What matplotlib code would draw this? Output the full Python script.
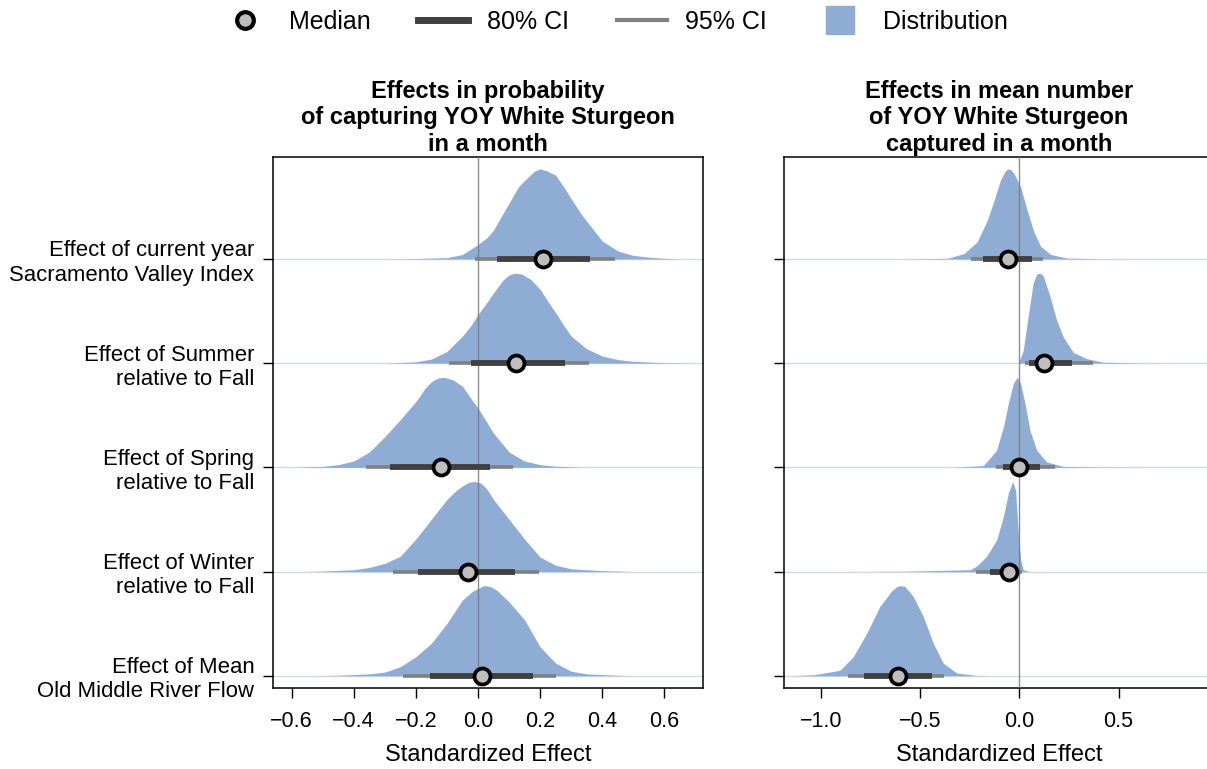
import numpy as np
import matplotlib
matplotlib.use("Agg")
import matplotlib.pyplot as plt
from matplotlib.lines import Line2D

plt.rcParams['font.family'] = ['Liberation Sans', 'DejaVu Sans']

# ---------------- data ----------------
categories = ["Effect of current year\nSacramento Valley Index",
              "Effect of Summer\nrelative to Fall",
              "Effect of Spring\nrelative to Fall",
              "Effect of Winter\nrelative to Fall",
              "Effect of Mean\nOld Middle River Flow"]

panel_titles = ["Effects in probability\nof capturing YOY White Sturgeon\nin a month",
                "Effects in mean number\nof YOY White Sturgeon\ncaptured in a month"]

xlabel_text = "Standardized Effect"

prob_ticks = [-0.6, -0.4, -0.2, 0.0, 0.2, 0.4, 0.6]
count_ticks = [-1.0, -0.5, 0.0, 0.5]

# probability panel summaries
prob_median = [0.21, 0.124, -0.118, -0.033, 0.014]
prob_ci80_low = [0.06, -0.022, -0.283, -0.194, -0.156]
prob_ci80_high = [0.36, 0.279, 0.039, 0.12, 0.176]
prob_ci95_low = [-0.01, -0.092, -0.36, -0.274, -0.24]
prob_ci95_high = [0.44, 0.359, 0.112, 0.195, 0.251]

# count panel summaries
count_median = [-0.057, 0.126, 0.0, -0.052, -0.61]
count_ci80_low = [-0.183, 0.05, -0.08, -0.148, -0.781]
count_ci80_high = [0.066, 0.264, 0.104, -0.005, -0.441]
count_ci95_low = [-0.242, 0.029, -0.119, -0.218, -0.861]
count_ci95_high = [0.121, 0.37, 0.18, 0.015, -0.378]

# posterior densities (x, relative height)
prob_svi_x = [-0.30, -0.2, -0.1, -0.05, 0, 0.03, 0.05, 0.08, 0.1, 0.13, 0.15, 0.18, 0.2, 0.22, 0.25, 0.28, 0.3, 0.33, 0.35, 0.4, 0.45, 0.5, 0.55, 0.6, 0.65]
prob_svi_h = [0, 0.005, 0.015, 0.05, 0.16, 0.24, 0.32, 0.5, 0.62, 0.8, 0.87, 0.97, 1.0, 0.98, 0.93, 0.78, 0.67, 0.51, 0.42, 0.2, 0.09, 0.04, 0.02, 0.008, 0]

prob_summer_x = [-0.3, -0.2, -0.15, -0.1, -0.05, -0.02, 0, 0.03, 0.05, 0.08, 0.1, 0.12, 0.14, 0.17, 0.2, 0.23, 0.25, 0.28, 0.3, 0.35, 0.4, 0.45, 0.5, 0.6, 0.7]
prob_summer_h = [0, 0.015, 0.045, 0.13, 0.3, 0.43, 0.54, 0.68, 0.78, 0.92, 0.98, 1.0, 0.99, 0.93, 0.82, 0.66, 0.56, 0.4, 0.3, 0.16, 0.08, 0.04, 0.02, 0.005, 0]

prob_spring_x = [-0.6, -0.5, -0.45, -0.4, -0.35, -0.3, -0.25, -0.2, -0.17, -0.15, -0.13, -0.11, -0.08, -0.05, -0.02, 0, 0.05, 0.1, 0.15, 0.2, 0.25, 0.35]
prob_spring_h = [0, 0.01, 0.03, 0.07, 0.17, 0.34, 0.53, 0.73, 0.88, 0.95, 0.99, 1.0, 0.97, 0.9, 0.75, 0.66, 0.38, 0.17, 0.07, 0.03, 0.012, 0]

prob_winter_x = [-0.55, -0.5, -0.4, -0.35, -0.3, -0.25, -0.2, -0.15, -0.1, -0.07, -0.05, -0.03, -0.01, 0.01, 0.03, 0.05, 0.1, 0.15, 0.2, 0.25, 0.3, 0.4, 0.5]
prob_winter_h = [0, 0.005, 0.02, 0.045, 0.09, 0.17, 0.36, 0.58, 0.8, 0.9, 0.95, 0.99, 1.0, 0.98, 0.91, 0.8, 0.58, 0.36, 0.16, 0.07, 0.03, 0.01, 0]

prob_flow_x = [-0.5, -0.45, -0.35, -0.3, -0.25, -0.2, -0.15, -0.1, -0.05, -0.02, 0, 0.02, 0.04, 0.06, 0.1, 0.15, 0.2, 0.25, 0.3, 0.35, 0.45, 0.5]
prob_flow_h = [0, 0.005, 0.02, 0.04, 0.1, 0.21, 0.36, 0.58, 0.84, 0.93, 0.97, 1.0, 0.99, 0.95, 0.82, 0.62, 0.32, 0.14, 0.05, 0.02, 0.005, 0]

count_svi_x = [-0.58, -0.363, -0.279, -0.212, -0.161, -0.127, -0.094, -0.069, -0.057, -0.042, -0.027, 0.007, 0.04, 0.074, 0.108, 0.158, 0.242, 0.41, 0.6]
count_svi_h = [0, 0.007, 0.06, 0.19, 0.43, 0.65, 0.88, 0.98, 1.0, 0.99, 0.95, 0.8, 0.54, 0.3, 0.14, 0.05, 0.01, 0.002, 0]

count_summer_x = [-0.005, 0.02, 0.045, 0.07, 0.088, 0.104, 0.121, 0.155, 0.188, 0.222, 0.272, 0.34, 0.423, 0.59, 0.76]
count_summer_h = [0, 0.14, 0.52, 0.89, 0.99, 1.0, 0.97, 0.74, 0.48, 0.29, 0.12, 0.05, 0.011, 0.002, 0]

count_spring_x = [-0.33, -0.181, -0.114, -0.08, -0.055, -0.03, -0.01, 0.007, 0.029, 0.054, 0.088, 0.138, 0.222, 0.4, 0.67]
count_spring_h = [0, 0.02, 0.19, 0.45, 0.71, 0.93, 1.0, 0.93, 0.71, 0.41, 0.19, 0.06, 0.01, 0.003, 0]

count_winter_x = [-0.92, -0.59, -0.248, -0.215, -0.164, -0.114, -0.08, -0.055, -0.033, -0.018, -0.01, -0.002, 0.007, 0.02, 0.05]
count_winter_h = [0, 0.003, 0.02, 0.06, 0.17, 0.35, 0.61, 0.87, 1.0, 0.9, 0.6, 0.35, 0.13, 0.02, 0]

count_flow_x = [-1.15, -1.038, -0.903, -0.836, -0.769, -0.702, -0.643, -0.62, -0.601, -0.576, -0.534, -0.484, -0.433, -0.383, -0.315, -0.215, -0.15]
count_flow_h = [0, 0.01, 0.06, 0.21, 0.47, 0.77, 0.94, 0.985, 1.0, 0.99, 0.88, 0.66, 0.36, 0.14, 0.03, 0.003, 0]

prob_dens = [(prob_svi_x, prob_svi_h), (prob_summer_x, prob_summer_h), (prob_spring_x, prob_spring_h),
             (prob_winter_x, prob_winter_h), (prob_flow_x, prob_flow_h)]
count_dens = [(count_svi_x, count_svi_h), (count_summer_x, count_summer_h), (count_spring_x, count_spring_h),
              (count_winter_x, count_winter_h), (count_flow_x, count_flow_h)]

# ---------------- style ----------------
DIST_COLOR = '#8FADD4'
CI80_COLOR = '#404040'
CI95_COLOR = '#808080'
MED_FACE = '#BEBEBE'
GRID_COLOR = '#D6D9DE'
SLAB_SCALE = 0.865

fig = plt.figure(figsize=(12.07, 7.69), dpi=100)
ax1 = fig.add_axes([273 / 1207, 1 - 688 / 769, 430 / 1207, 531 / 769])
ax2 = fig.add_axes([784 / 1207, 1 - 688 / 769, 430 / 1207, 531 / 769])

n = len(categories)
ypos = np.arange(n, 0, -1)  # top category highest


def draw_panel(ax, dens, med, lo80, hi80, lo95, hi95, xlim, ticks, title, show_labels):
    for y in ypos:
        ax.axhline(y, color=GRID_COLOR, lw=1.0, zorder=1)
    for i, (xs, hs) in enumerate(dens):
        xs = np.asarray(xs, float)
        hs = np.asarray(hs, float)
        ax.fill_between(xs, ypos[i], ypos[i] + hs * SLAB_SCALE, color=DIST_COLOR,
                        lw=0, zorder=2)
    ax.axvline(0, color='#7a7a7a', lw=1.0, alpha=0.85, zorder=3)
    for i in range(n):
        ax.plot([lo95[i], hi95[i]], [ypos[i], ypos[i]], color=CI95_COLOR, lw=2.6,
                solid_capstyle='butt', zorder=4)
        ax.plot([lo80[i], hi80[i]], [ypos[i], ypos[i]], color=CI80_COLOR, lw=4.2,
                solid_capstyle='butt', zorder=5)
    ax.plot(med, ypos, 'o', ms=11.5, mfc=MED_FACE, mec='black', mew=2.7, zorder=6)
    ax.set_xlim(*xlim)
    ax.set_ylim(0.882, 5.979)
    ax.set_xticks(ticks)
    ax.set_yticks(ypos)
    if show_labels:
        ax.set_yticklabels(categories, fontsize=15.9, ha='right')
    else:
        ax.set_yticklabels([])
    ax.tick_params(axis='y', direction='out', length=7.5, width=1.0, pad=6, colors='black')
    ax.tick_params(axis='x', direction='out', length=7.5, width=1.0, labelsize=15.5,
                   pad=9, colors='black')
    ax.set_xlabel(xlabel_text, fontsize=17, labelpad=8.5)
    ax.set_title(title, fontsize=17, fontweight='bold', pad=4, linespacing=1.22)
    for s in ax.spines.values():
        s.set_linewidth(1.1)
        s.set_color('black')


draw_panel(ax1, prob_dens, prob_median, prob_ci80_low, prob_ci80_high,
           prob_ci95_low, prob_ci95_high, (-0.660, 0.7246), prob_ticks, panel_titles[0], True)
draw_panel(ax2, count_dens, count_median, count_ci80_low, count_ci80_high,
           count_ci95_low, count_ci95_high, (-1.185, 0.981), count_ticks, panel_titles[1], False)

# legend
handles = [
    Line2D([], [], marker='o', ls='none', ms=12, mfc=MED_FACE, mec='black', mew=3),
    Line2D([], [], color=CI80_COLOR, lw=5),
    Line2D([], [], color=CI95_COLOR, lw=3),
    Line2D([], [], marker='s', ls='none', ms=20, color=DIST_COLOR),
]
labels = ["Median", "80% CI", "95% CI", "Distribution"]
fig.legend(handles, labels, loc='center', bbox_to_anchor=(0.509, 0.972), ncol=4,
           frameon=False, fontsize=18, handlelength=2.0, handletextpad=0.75,
           columnspacing=1.9)

fig.savefig("out.png", dpi=100)
